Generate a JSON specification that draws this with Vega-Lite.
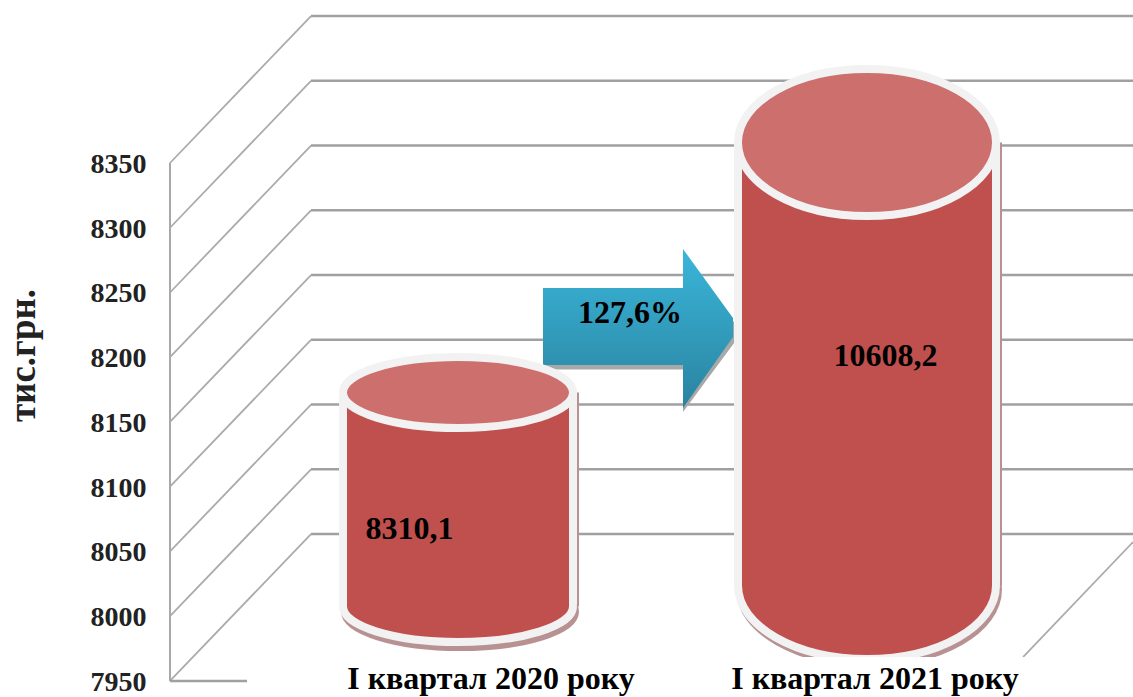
{
"$schema":"https://vega.github.io/schema/vega-lite/v6.json",
"width":1133,"height":697,"padding":0,"autosize":{"type":"none"},"background":"#ffffff",
"config":{"view":{"stroke":null},"scale":{"continuousPadding":0}},
"datasets":{
"wall":[{"x":170,"y":7950,"y2":8350}],
"diag":[
{"x":170,"y":8350,"x2":311,"y2":8463.5},{"x":170,"y":8300,"x2":311,"y2":8413.5},{"x":170,"y":8250,"x2":311,"y2":8363.5},{"x":170,"y":8200,"x2":311,"y2":8313.5},{"x":170,"y":8150,"x2":311,"y2":8263.5},{"x":170,"y":8100,"x2":311,"y2":8213.5},{"x":170,"y":8050,"x2":311,"y2":8163.5},{"x":170,"y":8000,"x2":311,"y2":8113.5},{"x":170,"y":7950,"x2":311,"y2":8063.5},{"x":1023,"y":7968.5,"x2":1133,"y2":8057.3}],
"back":[
{"x":311,"y":8463.5,"x2":1133},{"x":311,"y":8413.5,"x2":1133},{"x":311,"y":8363.5,"x2":1133},{"x":311,"y":8313.5,"x2":1133},{"x":311,"y":8263.5,"x2":1133},{"x":311,"y":8213.5,"x2":1133},{"x":311,"y":8163.5,"x2":1133},{"x":311,"y":8113.5,"x2":1133},{"x":311,"y":8063.5,"x2":1133},{"x":170,"y":7950,"x2":247}],
"arrow":[
{"x":543,"y":8253.5,"y2":8194},{"x":683,"y":8253.5,"y2":8194},{"x":683,"y":8283.6,"y2":8160.8},{"x":733,"y":8230.3,"y2":8215.6}],
"arrowShadow":[
{"x":543,"y":8250,"y2":8190.5},{"x":683,"y":8250,"y2":8190.5},{"x":683,"y":8280,"y2":8157.8},{"x":735,"y":8226,"y2":8212}],
"c1":[{"period":"I квартал 2020 року","x":458,"y":8172.8,"y2":8007.5}],
"c1base":[{"period":"I квартал 2020 року","x":458,"y":8007.5}],
"c2":[{"period":"I квартал 2021 року","x":867,"y":8365.8,"y2":8023.7}],
"c2base":[{"period":"I квартал 2021 року","x":867,"y":8023.7}],
"mask":[{"x":247,"x2":1133,"y":7968.5,"y2":7937.64}],
"labels":[
{"text":"І квартал 2020 року","x":491,"y":7943.8},
{"text":"І квартал 2021 року","x":875,"y":7943.8}],
"values":[
{"text":"8310,1","x":409.5,"y":8067.4},
{"text":"10608,2","x":885.5,"y":8201},
{"text":"127,6%","x":630,"y":8234.2}]
},
"encoding":{
 "x":{"field":"x","type":"quantitative","scale":{"domain":[0,1133],"nice":false,"zero":false},"axis":null},
 "y":{"field":"y","type":"quantitative","scale":{"domain":[7937.64,8475.87],"nice":false,"zero":false},
  "axis":{"orient":"left","offset":-146,"values":[7950,8000,8050,8100,8150,8200,8250,8300,8350],"grid":false,"domain":false,"ticks":false,"labelPadding":0,"labelOffset":1.5,"labelFont":"Liberation Serif","labelFontSize":28,"labelFontWeight":"bold","labelColor":"#222222","format":"d","title":"тис.грн.","titleFont":"Liberation Serif","titleFontSize":37,"titleFontWeight":"bold","titleColor":"#222222","titleX":-112,"titleY":355,"titleAngle":-90,"titleAlign":"center","titleBaseline":"alphabetic"}}
},
"layer":[
{"data":{"name":"wall"},"mark":{"type":"rule","color":"#A8A8A8","strokeWidth":2},"encoding":{"y2":{"field":"y2"}}},
{"data":{"name":"diag"},"mark":{"type":"rule","color":"#ABABAB","strokeWidth":1.8},"encoding":{"x2":{"field":"x2"},"y2":{"field":"y2"}}},
{"data":{"name":"back"},"mark":{"type":"rule","color":"#A0A0A0","strokeWidth":2.5},"encoding":{"x2":{"field":"x2"}}},
{"data":{"name":"arrowShadow"},"mark":{"type":"area","color":"#A8A8A8","opacity":1},"encoding":{"y2":{"field":"y2"}}},
{"data":{"name":"arrow"},"mark":{"type":"area","opacity":1,"color":{"gradient":"linear","x1":0,"y1":0,"x2":0,"y2":1,"stops":[{"offset":0,"color":"#3AB6DA"},{"offset":1,"color":"#2A83A0"}]}},"encoding":{"y2":{"field":"y2"}}},

{"data":{"name":"c1"},"mark":{"type":"bar","width":238,"color":"#B89292","xOffset":2},"encoding":{"y2":{"field":"y2"}}},
{"data":{"name":"c1base"},"mark":{"type":"point","filled":true,"opacity":1,"shape":"M-1,0A1,0.3087,0,1,1,1,0A1,0.3087,0,1,1,-1,0Z","size":52900,"fill":"#B89292","stroke":"#B89292","strokeWidth":8,"xOffset":2,"yOffset":5}},
{"data":{"name":"c1base"},"mark":{"type":"point","filled":true,"opacity":1,"shape":"M-1,0A1,0.3087,0,1,1,1,0A1,0.3087,0,1,1,-1,0Z","size":52900,"fill":"#C0504D","stroke":"#F2F2F2","strokeWidth":8}},
{"data":{"name":"c1"},"mark":{"type":"bar","width":238,"color":"#F2F2F2","y2Offset":-2},"encoding":{"y2":{"field":"y2"}}},
{"data":{"name":"c1"},"mark":{"type":"bar","width":222,"color":"#C0504D"},"encoding":{"y2":{"field":"y2"}}},
{"data":{"name":"c1"},"mark":{"type":"point","filled":true,"opacity":1,"shape":"M-1,0A1,0.3087,0,1,1,1,0A1,0.3087,0,1,1,-1,0Z","size":52900,"fill":"#CD6F6D","stroke":"#F2F2F2","strokeWidth":8}},

{"data":{"name":"c2"},"mark":{"type":"bar","width":266,"color":"#B89292","xOffset":2},"encoding":{"y2":{"field":"y2"}}},
{"data":{"name":"c2base"},"mark":{"type":"point","filled":true,"opacity":1,"shape":"M-1,0A1,0.5698,0,1,1,1,0A1,0.5698,0,1,1,-1,0Z","size":66564,"fill":"#B89292","stroke":"#B89292","strokeWidth":8,"xOffset":2,"yOffset":4}},
{"data":{"name":"c2base"},"mark":{"type":"point","filled":true,"opacity":1,"shape":"M-1,0A1,0.5698,0,1,1,1,0A1,0.5698,0,1,1,-1,0Z","size":66564,"fill":"#C0504D","stroke":"#F2F2F2","strokeWidth":8}},
{"data":{"name":"c2"},"mark":{"type":"bar","width":266,"color":"#F2F2F2","y2Offset":-2},"encoding":{"y2":{"field":"y2"}}},
{"data":{"name":"c2"},"mark":{"type":"bar","width":250,"color":"#C0504D"},"encoding":{"y2":{"field":"y2"}}},
{"data":{"name":"c2"},"mark":{"type":"point","filled":true,"opacity":1,"shape":"M-1,0A1,0.5698,0,1,1,1,0A1,0.5698,0,1,1,-1,0Z","size":66564,"fill":"#CD6F6D","stroke":"#F2F2F2","strokeWidth":8}},

{"data":{"name":"mask"},"mark":{"type":"rect","color":"#ffffff"},"encoding":{"x2":{"field":"x2"},"y2":{"field":"y2"}}},
{"data":{"name":"labels"},"mark":{"type":"text","font":"Liberation Serif","fontWeight":"bold","fontSize":32,"color":"#000000","align":"center","baseline":"alphabetic"},"encoding":{"text":{"field":"text"}}},
{"data":{"name":"values"},"mark":{"type":"text","font":"Liberation Serif","fontWeight":"bold","fontSize":32,"color":"#000000","align":"center","baseline":"middle"},"encoding":{"text":{"field":"text"}}}
]
}
